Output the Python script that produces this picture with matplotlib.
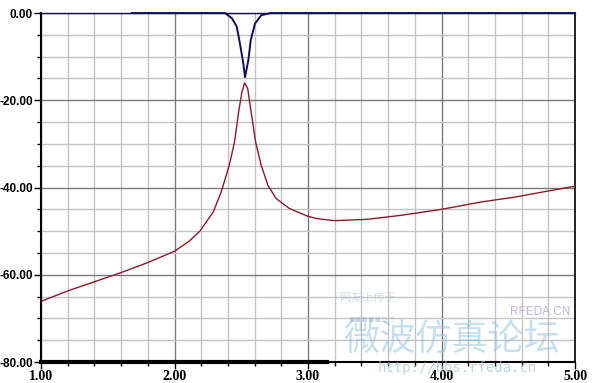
import numpy as np
import matplotlib as mpl
import matplotlib.pyplot as plt
from matplotlib.ticker import MultipleLocator, FormatStrFormatter

mpl.use('Agg')

# red trace
red_x = [1.0, 1.2, 1.4, 1.6, 1.8, 2.0, 2.11, 2.19, 2.29, 2.35, 2.41, 2.45, 2.48,
         2.505, 2.525, 2.548, 2.574, 2.607, 2.649, 2.70, 2.76, 2.86, 2.99, 3.06,
         3.2, 3.44, 3.69, 4.0, 4.3, 4.55, 4.78, 5.0]
red_y = [-66.1, -63.7, -61.6, -59.5, -57.2, -54.6, -52.3, -50.0, -45.6, -41.0,
         -34.9, -29.5, -22.7, -18.1, -16.0, -17.3, -22.7, -29.5, -34.9, -39.5,
         -42.5, -44.8, -46.5, -47.1, -47.6, -47.3, -46.4, -45.0, -43.3, -42.2,
         -40.9, -39.7]

# blue trace
blue_x = [1.68, 2.378, 2.43, 2.466, 2.49, 2.515, 2.528, 2.553, 2.571, 2.603,
          2.65, 2.72, 5.0]
blue_y = [0.0, 0.0, -1.2, -3.1, -7.0, -11.5, -14.7, -10.8, -6.2, -2.4,
          -0.5, 0.0, 0.0]

# third trace lying on the floor of the plot
floor_x = [1.0, 3.14]
floor_y = [-80.0, -80.0]

fig = plt.figure(figsize=(5.92, 3.83), dpi=100)
ax = fig.add_axes([0.0693, 0.0548, 0.9713 - 0.0693, 0.966 - 0.0548])

ax.set_xlim(1, 5)
ax.set_ylim(-80, 0)

ax.xaxis.set_major_locator(MultipleLocator(1))
ax.xaxis.set_minor_locator(MultipleLocator(0.2))
ax.yaxis.set_major_locator(MultipleLocator(20))
ax.yaxis.set_minor_locator(MultipleLocator(5))
ax.xaxis.set_major_formatter(FormatStrFormatter('%.2f'))
ax.yaxis.set_major_formatter(FormatStrFormatter('%.2f'))

ax.grid(which='major', color='#7a7a7a', lw=1.0)
ax.grid(which='minor', color='#c4c4c4', lw=1.0)
ax.set_axisbelow(True)

ax.tick_params(which='major', direction='out', length=5, width=1, color='black', pad=1)
ax.tick_params(which='minor', direction='out', length=3, width=1, color='black')
for lab in ax.get_xticklabels():
    lab.set_fontfamily('Liberation Serif')
    lab.set_fontweight('bold')
    lab.set_fontsize(10)
for lab in ax.get_yticklabels():
    lab.set_fontfamily('Liberation Sans')
    lab.set_fontweight('bold')
    lab.set_fontsize(8.5)

for side in ['left', 'bottom']:
    ax.spines[side].set_linewidth(1.5)
    ax.spines[side].set_color('black')
ax.spines['top'].set_color('#101040')
ax.spines['top'].set_linewidth(1.0)
ax.spines['right'].set_color('black')
ax.spines['right'].set_linewidth(1.2)

ax.plot(red_x, red_y, color='#8e1a2a', lw=1.0, zorder=3)
ax.plot(blue_x, blue_y, color='#10105a', lw=1.4, zorder=4, clip_on=False)
ax.plot(floor_x, floor_y, color='black', lw=3, zorder=4, clip_on=False)

# forum watermark
cjk = ['Noto Sans CJK SC', 'DejaVu Sans']
ax.text(0.566, 0.063, '微波仿真论坛', transform=ax.transAxes, fontsize=26,
        family=cjk, color='#8ec4dc', alpha=0.5,
        ha='left', va='center', zorder=5)
ax.text(0.56, 0.183, '网友上传于', transform=ax.transAxes, fontsize=8,
        family=cjk, color='#9fb4cc', alpha=0.45,
        ha='left', va='center', zorder=5)
ax.text(0.575, 0.126, '▪▪▪▪▪▫▫', transform=ax.transAxes, fontsize=7,
        family='DejaVu Sans', color='#8fa8c0', alpha=0.45,
        ha='left', va='center', zorder=5)
ax.text(0.878, 0.143, 'RFEDA.CN', transform=ax.transAxes, fontsize=8.5,
        family='Liberation Sans', color='#b0a0d8', alpha=0.8,
        ha='left', va='center', zorder=5)
ax.text(0.631, -0.017, 'http://bbs.rfeda.cn', transform=ax.transAxes, fontsize=10,
        family='DejaVu Sans Mono', color='#a0c8dc', alpha=0.7,
        ha='left', va='center', zorder=5)

fig.savefig('out.png', dpi=100)
